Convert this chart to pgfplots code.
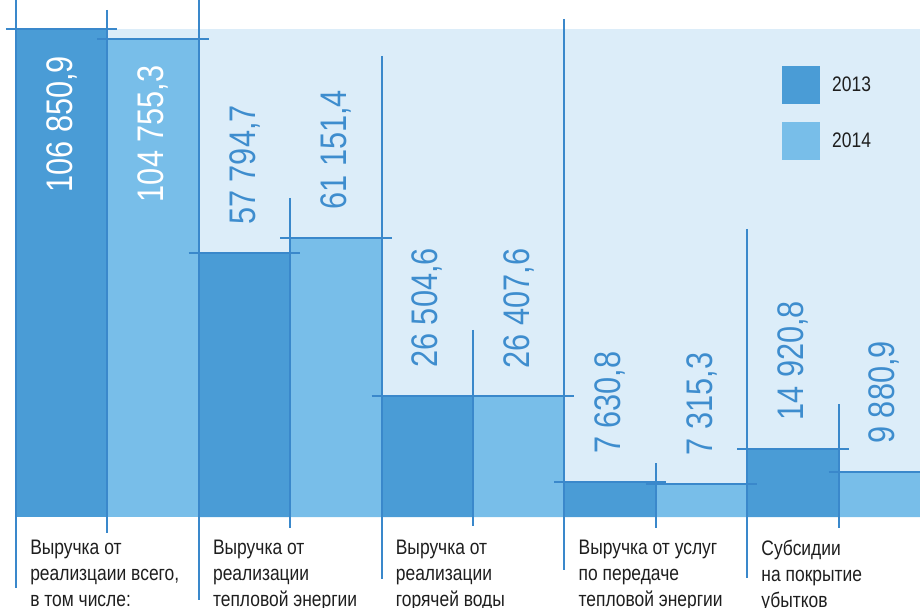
\documentclass[border=0pt]{standalone}
\usepackage{fontspec}
\setmainfont{Liberation Sans}[FakeStretch=0.83]
\usepackage{pgfplots}
\usepackage{pgfplotstable}
\pgfplotsset{compat=1.18}

\definecolor{bg}{HTML}{DCEDF9}
\definecolor{c13}{HTML}{4A9CD6}
\definecolor{c14}{HTML}{78BEE9}
\definecolor{lin}{HTML}{3A88CB}
\definecolor{lab}{HTML}{3E8DCE}
\definecolor{txt}{HTML}{1E1E1E}

% group centre, 2013, 2014
\pgfplotstableread{
x  y13      y14
1  106850.9 104755.3
3  57794.7  61151.4
5  26504.6  26407.6
7  7630.8   7315.3
9  14920.8  9880.9
}\data

\begin{document}
\begin{tikzpicture}
\begin{axis}[
  scale only axis,
  width=685.5pt, height=366pt,
  xmin=0, xmax=10, ymin=0, ymax=106850.9,
  clip=false,
  ybar, bar width=1,
  axis background/.style={fill=bg},
  axis line style={draw=none},
  major tick length=0pt,
  ytick=\empty,
  xtick={0,2,4,6,8},
  xticklabels={
    {Выручка от\\реализцаии всего,\\в том числе:},
    {Выручка от\\реализации\\тепловой энергии},
    {Выручка от\\реализации\\горячей воды},
    {Выручка от услуг\\по передаче\\тепловой энергии},
    {Субсидии\\на покрытие\\убытков}},
  xticklabel style={anchor=north west, align=left, inner sep=0pt,
    xshift=10.5pt, yshift=-17.25pt, text=txt,
    font=\fontsize{15.75}{19.5}\selectfont},
  /pgf/number format/.cd, fixed, fixed zerofill, precision=1,
    use comma, 1000 sep={\ }, assume math mode=true,
  /pgfplots/.cd,
  legend image code/.code={\fill[#1] (0pt,-14.25pt) rectangle (28.5pt,14.25pt);},
  legend style={draw=none, fill=none, inner sep=0pt,
    at={(0.838,0.924)}, anchor=north west,
    row sep=13.5pt, column sep=9pt,
    nodes={inner sep=0pt, text=txt, font=\fontsize{15.75}{19.5}\selectfont}},
  legend cell align=left,
]
\coordinate (bl) at (rel axis cs:0,0);

\addplot[fill=c13, draw=none, bar shift=-0.5,
  skip coords between index={0}{1},
  nodes near coords,
  every node near coord/.append style={yshift=21pt, rotate=90, anchor=west,
    inner sep=0pt, text=lab, font=\fontsize{27.75}{30}\selectfont}]
  table[x=x, y=y13] {\data};
\addlegendentry{2013}
\addplot[fill=c14, draw=none, bar shift=0.5,
  skip coords between index={0}{1},
  nodes near coords,
  every node near coord/.append style={yshift=21pt, rotate=90, anchor=west,
    inner sep=0pt, text=lab, font=\fontsize{27.75}{30}\selectfont}]
  table[x=x, y=y14] {\data};
\addlegendentry{2014}

\addplot[fill=c13, draw=none, bar shift=-0.5, forget plot,
  skip coords between index={1}{5},
  nodes near coords,
  every node near coord/.append style={yshift=-20pt, rotate=90, anchor=east,
    inner sep=0pt, text=white, font=\fontsize{27.75}{30}\selectfont}]
  table[x=x, y=y13] {\data};
\addplot[fill=c14, draw=none, bar shift=0.5, forget plot,
  skip coords between index={1}{5},
  nodes near coords,
  every node near coord/.append style={yshift=-20pt, rotate=90, anchor=east,
    inner sep=0pt, text=white, font=\fontsize{27.75}{30}\selectfont}]
  table[x=x, y=y14] {\data};

% guide lines: across each bar top, and down each bar's left edge
\addplot[sharp plot, no marks, lin, line width=1.5pt, forget plot,
  unbounded coords=jump] coordinates {
  (-0.11,106850.9) (1.11,106850.9) (nan,nan)
  (0.89,104755.3) (2.11,104755.3) (nan,nan)
  (1.89,57794.7) (3.11,57794.7) (nan,nan)
  (2.89,61151.4) (4.11,61151.4) (nan,nan)
  (3.89,26504.6) (5.11,26504.6) (nan,nan)
  (4.89,26407.6) (6.11,26407.6) (nan,nan)
  (5.89,7630.8) (7.11,7630.8) (nan,nan)
  (6.89,7315.3) (8.11,7315.3) (nan,nan)
  (7.89,14920.8) (9.11,14920.8) (nan,nan)
  (8.89,9880.9) (10.11,9880.9) (nan,nan)
  (0,113202) (0,-15546) (nan,nan)
  (1,111013) (1,-3503) (nan,nan)
  (2,113202) (2,-18174) (nan,nan)
  (3,69848) (3,-2409) (nan,nan)
  (4,100941) (4,-13576) (nan,nan)
  (5,40946) (5,-1971) (nan,nan)
  (6,109042) (6,-11605) (nan,nan)
  (7,11824) (7,-2409) (nan,nan)
  (8,63060) (8,-13357) (nan,nan)
  (9,24742) (9,-2409)
};
\end{axis}
\pgfresetboundingbox
\path[use as bounding box] ([xshift=-12pt, yshift=-67.5pt]bl) rectangle ([xshift=678pt, yshift=387.75pt]bl);
\end{tikzpicture}
\end{document}
